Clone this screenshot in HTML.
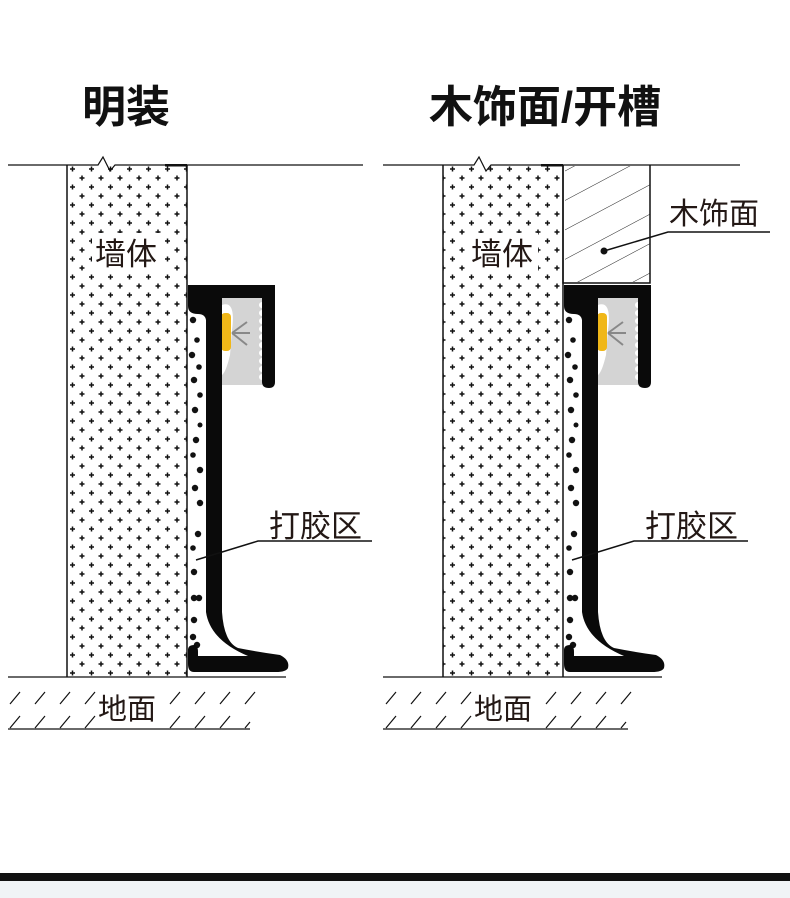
<!DOCTYPE html>
<html><head><meta charset="utf-8"><style>
html,body{margin:0;padding:0;background:#fff;}
body{width:790px;height:898px;overflow:hidden;position:relative;}
svg{position:absolute;left:0;top:0;}
text{font-family:"Liberation Sans","Noto Sans CJK SC",sans-serif;fill:#231815;}
</style></head><body>
<svg width="790" height="898" viewBox="0 0 790 898">
<defs>
<pattern id="plus" x="67" y="165" width="19" height="18" patternUnits="userSpaceOnUse">
<path d="M3 4h5M5.5 1.5v5M12.5 13h5M15 10.5v5" stroke="#111" stroke-width="1.5"/>
</pattern>
<pattern id="wood" width="26" height="26" patternUnits="userSpaceOnUse" patternTransform="rotate(-28)">
<line x1="0" y1="0" x2="26" y2="0" stroke="#222" stroke-width="1"/>
</pattern>
<g id="profile">
<g fill="#111">
<circle cx="193" cy="320" r="3.2"/><circle cx="197" cy="340" r="2.8"/><circle cx="192" cy="355" r="3.2"/><circle cx="199" cy="367" r="2.8"/><circle cx="194" cy="380" r="3.2"/><circle cx="200" cy="395" r="2.8"/><circle cx="195" cy="410" r="3.2"/><circle cx="200" cy="425" r="2.5"/><circle cx="196" cy="440" r="3.2"/><circle cx="193" cy="455" r="2.8"/><circle cx="200" cy="470" r="3.2"/><circle cx="195" cy="488" r="3.2"/><circle cx="200" cy="503" r="3.2"/><circle cx="198" cy="534" r="3.2"/><circle cx="193" cy="548" r="2.8"/><circle cx="194" cy="572" r="3.2"/><circle cx="194" cy="598" r="3.2"/><circle cx="199" cy="598" r="3.2"/><circle cx="194" cy="620" r="3.2"/><circle cx="193" cy="637" r="3.2"/><circle cx="197" cy="645" r="3.2"/>
</g>
<path d="M222 298 H262 V385 H222 Z" fill="#d4d4d4"/>
<g fill="#fff">
<circle cx="262" cy="305" r="3"/><circle cx="262" cy="313" r="3"/><circle cx="262" cy="321" r="3"/><circle cx="262" cy="329" r="3"/><circle cx="262" cy="337" r="3"/><circle cx="262" cy="345" r="3"/><circle cx="262" cy="353" r="3"/><circle cx="262" cy="361" r="3"/><circle cx="262" cy="369" r="3"/><circle cx="262" cy="377" r="3"/>
</g>
<path d="M222 305 Q236 300 232 330 L230 355 Q226 372 222 375 Z" fill="#fff"/>
<rect x="221" y="313" width="10" height="38" rx="4" fill="#f0b718"/>
<path d="M232 333 L247 322 M232 333 L250 333 M232 333 L247 345" stroke="#888" stroke-width="2" fill="none"/>
<path d="M188 285 H275 V382 Q275 388 269 388 Q262 388 262 382 V298 H222 V612 Q224 642 238 648 Q258 652 280 655 Q290 660 288 668 Q286 672 276 672 H194 Q188 672 188 664 V650 Q188 645 194 645 Q198 645 198 652 V656 H248 Q210 640 206 612 V320 Q205 314 198 314 Q188 314 188 306 Z" fill="#0a0a0a"/>
</g>
</defs>

<text x="126" y="122" font-size="44" font-weight="bold" text-anchor="middle" style="fill:#111">明装</text>
<text x="545" y="122" font-size="44" font-weight="bold" text-anchor="middle" style="fill:#111">木饰面/开槽</text>

<!-- LEFT PANEL -->
<rect x="67" y="165" width="120" height="512" fill="url(#plus)"/>
<path d="M67 165 V677 M187 165 V677" stroke="#111" stroke-width="1.5"/>
<path d="M8 165 H98 L103 157 L110 171 L115 165 H363" stroke="#111" stroke-width="1.2" fill="none"/>
<rect x="165" y="164" width="22" height="2.5" fill="#111"/>
<rect x="92" y="233" width="70" height="38" fill="#fff"/>
<text x="95" y="265" font-size="31">墙体</text>
<use href="#profile"/>
<path d="M196 560 L258 541 H372" stroke="#111" stroke-width="1.5" fill="none"/>
<text x="269" y="537" font-size="31">打胶区</text>
<path d="M8 677 H286 M8 729 H250" stroke="#111" stroke-width="1.3"/>
<g stroke="#111" stroke-width="1.2">
<path d="M10 704 L20 692 M35 704 L45 692 M60 704 L70 692 M85 704 L95 692 M170 704 L180 692 M195 704 L205 692 M220 704 L230 692 M245 704 L255 692"/>
<path d="M10 728 L20 716 M35 728 L45 716 M60 728 L70 716 M85 728 L95 716 M170 728 L180 716 M195 728 L205 716 M220 728 L230 716 M245 728 L250 722"/>
</g>
<text x="98" y="719" font-size="29">地面</text>

<!-- RIGHT PANEL -->
<rect x="443" y="165" width="120" height="512" fill="url(#plus)"/>
<path d="M443 165 V677 M563 165 V677" stroke="#111" stroke-width="1.5"/>
<path d="M383 165 H474 L479 157 L486 171 L491 165 H740" stroke="#111" stroke-width="1.2" fill="none"/>
<rect x="541" y="164" width="22" height="2.5" fill="#111"/>
<rect x="565" y="166" width="85" height="116" fill="url(#wood)"/>
<path d="M563 165 V283 H650 V165" stroke="#111" stroke-width="1.5" fill="none"/>
<rect x="468" y="233" width="70" height="38" fill="#fff"/>
<text x="471" y="265" font-size="31">墙体</text>
<circle cx="604" cy="251" r="3.5" fill="#111"/>
<path d="M604 251 L668 232 H770" stroke="#111" stroke-width="1.5" fill="none"/>
<text x="669" y="224" font-size="30">木饰面</text>
<use href="#profile" transform="translate(376,0)"/>
<path d="M572 560 L634 541 H748" stroke="#111" stroke-width="1.5" fill="none"/>
<text x="645" y="537" font-size="31">打胶区</text>
<path d="M383 677 H662 M383 729 H628" stroke="#111" stroke-width="1.3"/>
<g stroke="#111" stroke-width="1.2">
<path d="M386 704 L396 692 M411 704 L421 692 M436 704 L446 692 M461 704 L471 692 M546 704 L556 692 M571 704 L581 692 M596 704 L606 692 M621 704 L631 692"/>
<path d="M386 728 L396 716 M411 728 L421 716 M436 728 L446 716 M461 728 L471 716 M546 728 L556 716 M571 728 L581 716 M596 728 L606 716 M621 728 L626 722"/>
</g>
<text x="474" y="719" font-size="29">地面</text>

<rect x="0" y="873" width="790" height="8" fill="#111"/>
<rect x="0" y="881" width="790" height="17" fill="#f0f4f6"/>
</svg>
</body></html>
